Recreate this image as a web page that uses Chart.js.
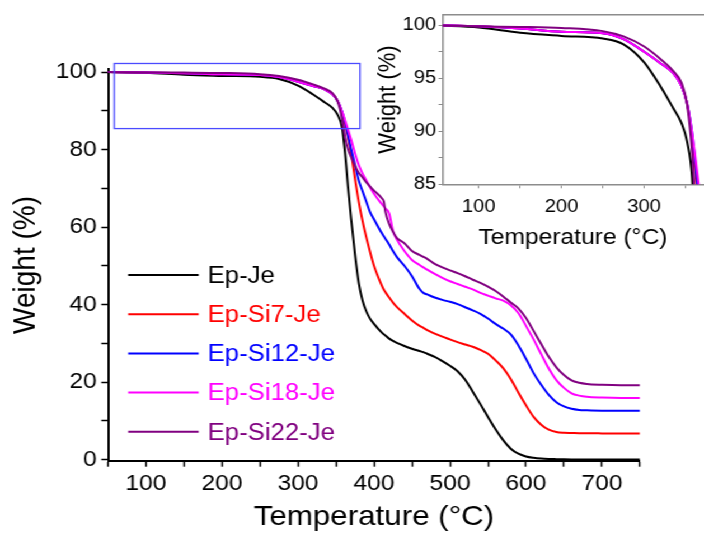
<!DOCTYPE html>
<html>
<head>
<meta charset="utf-8">
<title>TGA curves</title>
<script src="https://cdn.jsdelivr.net/npm/chart.js@4.4.1/dist/chart.umd.min.js"></script>
<style>
    html, body { margin: 0; padding: 0; background: #fff; overflow: hidden; }
    /* the source picture is a little wider than tall, so the whole stage is stretched sideways */
    #stage { position: relative; width: 629px; height: 537px; transform: scaleX(1.1192); transform-origin: 0 0; }
    #mainBox { position: absolute; left: 0; top: 0; width: 629px; height: 537px; }
    #insetBox { position: absolute; left: 330px; top: 0; width: 299px; height: 262px; }
</style>
</head>
<body>
<div id="stage">
    <div id="mainBox"><canvas id="mainChart"></canvas></div>
    <div id="insetBox"><canvas id="insetChart"></canvas></div>
</div>
<script>
        // Data (temperature in °C, weight in %)
        const temps = [50, 100, 150, 200, 250, 275, 300, 320, 335, 345, 352, 358, 362, 366, 370,
            375, 380, 385, 390, 395, 400, 410, 413, 415, 420, 425, 430, 440, 450, 460,
            465, 470, 480, 490, 500, 510, 520, 530, 540, 550, 560, 570, 580, 590, 600,
            610, 620, 630, 640, 650, 660, 670, 680, 700, 725, 750];

        const weightEpJe = [100, 99.8, 99.3, 99.0, 98.75, 98.2, 96.5, 94.2, 92.2, 90.8, 89.0, 85.6, 79, 70, 62,
            53, 45.5, 41, 38.2, 36.3, 35, 32.8, 32.3, 32, 31.2, 30.6, 30.1, 29.3, 28.6, 28,
            27.7, 27.3, 26.5, 25.4, 24.2, 22.8, 20.6, 17.5, 14.3, 11, 7.8, 5, 2.8, 1.5, 0.8,
            0.45, 0.25, 0.15, 0.1, 0.06, 0.04, 0.03, 0.02, 0.01, 0, 0];

        const weightSi7 = [100, 99.9, 99.7, 99.4, 99.25, 98.7, 97.5, 96.4, 95.5, 94.3, 92.6, 89.5, 86.3, 83, 79,
            72.5, 66.5, 61.5, 57.3, 53.5, 50, 45, 43.8, 43.2, 41.8, 40.5, 39.4, 37.6, 35.9, 34.5,
            34, 33.4, 32.5, 31.7, 31, 30.3, 29.7, 29.1, 28.3, 27.3, 25.6, 23.6, 20.8, 17.3, 14,
            11, 9, 7.7, 7.1, 6.9, 6.85, 6.8, 6.78, 6.75, 6.72, 6.7];

        const weightSi12 = [100, 99.9, 99.7, 99.4, 99.25, 98.7, 97.5, 96.4, 95.5, 94.3, 92.6, 89.8, 87, 83.5, 80,
            76, 72, 69.2, 66.5, 63.8, 62, 58.5, 57.6, 57, 55.5, 53.8, 52.3, 50, 47.3, 44,
            43, 42.6, 41.8, 41.2, 40.7, 40.1, 39.3, 38.5, 37.6, 36.4, 35, 33.8, 32.3, 29.5, 26,
            22.3, 19.3, 16.7, 14.8, 13.7, 13.1, 12.8, 12.7, 12.6, 12.6, 12.6];

        const weightSi18 = [100, 99.9, 99.7, 99.4, 99.25, 98.7, 97.5, 96.4, 95.5, 94.3, 92.6, 89.8, 87.5, 85, 82.5,
            79, 76, 73.8, 72, 70.2, 68.6, 66, 65.3, 64.8, 63.5, 59, 56.8, 53.8, 51.5, 50.2,
            49.6, 49, 47.9, 46.9, 46, 45.3, 44.6, 43.9, 43, 42.3, 41.6, 41, 39.8, 37.8, 34.5,
            31, 27.2, 23.5, 20.5, 18.5, 17.1, 16.5, 16.2, 16, 15.9, 15.9];

        const weightSi22 = [100, 99.9, 99.85, 99.75, 99.45, 98.95, 98.0, 96.8, 95.7, 94.6, 92.5, 88, 83, 80, 78,
            75.8, 74, 72.8, 71.5, 70.4, 69.4, 67.5, 66.5, 64, 60.8, 58.8, 57.2, 55.8, 53.8, 52.8,
            52.3, 51.8, 50.5, 49.6, 48.8, 48.1, 47.3, 46.4, 45.6, 44.6, 43.5, 42.1, 40.5, 39, 36.5,
            33.2, 29.8, 26.5, 23.8, 21.8, 20.4, 19.8, 19.5, 19.3, 19.2, 19.2];

        const seriesNames = ['Ep-Je', 'Ep-Si7-Je', 'Ep-Si12-Je', 'Ep-Si18-Je', 'Ep-Si22-Je'];
        const seriesValues = [weightEpJe, weightSi7, weightSi12, weightSi18, weightSi22];
        const seriesColors = ['#000000', '#ff0000', '#0000ff', '#ff00ff', '#800080'];

        // zoomed region marked on the main plot (temperature / weight ranges)
        const zoomTemps = [58.3, 381.6];
        const zoomWeights = [85.4, 102.2];

        Chart.defaults.font.family = '"Liberation Sans", Arial, Helvetica, sans-serif';
        Chart.defaults.color = '#000';

        function buildDatasets() {
            return seriesValues.map((vals, i) => ({
                label: seriesNames[i],
                data: temps.map((t, k) => ({ x: t, y: vals[k] })),
                borderColor: seriesColors[i],
                borderWidth: 2,
                pointRadius: 0,
                fill: false,
                cubicInterpolationMode: 'monotone',
                order: seriesValues.length - i // last series on top
            }));
        }

        // legend drawn inside the plot, text in the series colour
        const innerLegend = {
            id: 'innerLegend',
            afterDraw(chart) {
                const { ctx, chartArea } = chart;
                ctx.save();
                ctx.font = '23px "Liberation Sans", Arial, sans-serif';
                ctx.textBaseline = 'middle';
                ctx.textAlign = 'left';
                chart.data.datasets.forEach((ds, i) => {
                    const y = 275 + i * 39.2;
                    const x0 = chartArea.left + 18;
                    ctx.strokeStyle = ds.borderColor;
                    ctx.lineWidth = 2;
                    ctx.beginPath();
                    ctx.moveTo(x0, y);
                    ctx.lineTo(x0 + 63, y);
                    ctx.stroke();
                    ctx.fillStyle = ds.borderColor;
                    ctx.fillText(ds.label, x0 + 71, y + 1.5);
                });
                ctx.restore();
            }
        };

        const zoomFrame = {
            id: 'zoomFrame',
            afterDatasetsDraw(chart) {
                const { ctx, scales } = chart;
                const l = scales.x.getPixelForValue(zoomTemps[0]);
                const r = scales.x.getPixelForValue(zoomTemps[1]);
                const t = scales.y.getPixelForValue(zoomWeights[1]);
                const b = scales.y.getPixelForValue(zoomWeights[0]);
                ctx.save();
                ctx.strokeStyle = '#4b4bff';
                ctx.lineWidth = 1.3;
                ctx.strokeRect(l, t, r - l, b - t);
                ctx.restore();
            }
        };

        const topLine = {
            id: 'topLine',
            afterDraw(chart) {
                const { ctx, chartArea } = chart;
                ctx.save();
                ctx.strokeStyle = '#8c8c8c';
                ctx.lineWidth = 1.5;
                ctx.beginPath();
                ctx.moveTo(chartArea.left, chartArea.top);
                ctx.lineTo(chart.width, chartArea.top);
                ctx.stroke();
                ctx.restore();
            }
        };

        // 1. Main chart
        new Chart(document.getElementById('mainChart'), {
            type: 'line',
            data: { datasets: buildDatasets() },
            plugins: [zoomFrame, innerLegend],
            options: {
                responsive: true,
                maintainAspectRatio: false,
                animation: false,
                layout: { padding: { left: 0, top: 69.3, right: 57.2, bottom: 0 } },
                plugins: { legend: { display: false }, tooltip: { enabled: false } },
                scales: {
                    x: {
                        type: 'linear', min: 50, max: 750,
                        ticks: {
                            stepSize: 50, autoSkip: false, maxRotation: 0, includeBounds: false,
                            padding: 4, font: { size: 22 },
                            callback: v => (v % 100 === 0 ? v : '')
                        },
                        grid: { drawOnChartArea: false, tickLength: 6, tickWidth: 1.5, tickColor: '#000' },
                        border: { color: '#000', width: 2 },
                        title: { display: true, text: 'Temperature (°C)', font: { size: 28 }, padding: { top: 0, bottom: 3 } },
                        afterFit: s => { s.height = 76.3; }
                    },
                    y: {
                        type: 'linear', min: -0.3, max: 100.7,
                        ticks: {
                            stepSize: 10, includeBounds: false, padding: 4, font: { size: 22 },
                            callback: v => (v % 20 === 0 ? v : '')
                        },
                        grid: { drawOnChartArea: false, tickLength: 6, tickWidth: 1.5, tickColor: '#000' },
                        border: { color: '#000', width: 2 },
                        title: { display: true, text: 'Weight (%)', font: { size: 28 }, padding: { top: 6.4, bottom: 0 } },
                        afterFit: s => { s.width = 96.5; }
                    }
                }
            }
        });

        // 2. Inset (zoom of the onset)
        new Chart(document.getElementById('insetChart'), {
            type: 'line',
            data: { datasets: buildDatasets() },
            plugins: [topLine],
            options: {
                responsive: true,
                maintainAspectRatio: false,
                animation: false,
                layout: { padding: { left: 0, top: 14.7, right: 0, bottom: 0 } },
                plugins: { legend: { display: false }, tooltip: { enabled: false } },
                scales: {
                    x: {
                        type: 'linear', min: 56.6, max: 371,
                        ticks: {
                            stepSize: 50, autoSkip: false, maxRotation: 0, includeBounds: false,
                            padding: 8, font: { size: 18 },
                            callback: v => (v % 100 === 0 ? v : '')
                        },
                        grid: { drawOnChartArea: false, tickLength: 4, tickWidth: 1, tickColor: '#8c8c8c' },
                        border: { color: '#8c8c8c', width: 1.5 },
                        title: { display: true, text: 'Temperature (°C)', font: { size: 22 }, padding: { top: 0, bottom: 10.8 } },
                        afterFit: s => { s.height = 77.7; }
                    },
                    y: {
                        type: 'linear', min: 85, max: 101,
                        ticks: {
                            stepSize: 2.5, includeBounds: false, padding: 2, font: { size: 18 },
                            callback: v => (v % 5 === 0 ? v : '')
                        },
                        grid: { drawOnChartArea: false, tickLength: 4, tickWidth: 1, tickColor: '#8c8c8c' },
                        border: { color: '#8c8c8c', width: 1.5 },
                        title: { display: true, text: 'Weight (%)', font: { size: 22 }, padding: { top: 4, bottom: 0 } },
                        afterFit: s => { s.width = 65.8; }
                    }
                }
            }
        });
</script>
</body>
</html>
